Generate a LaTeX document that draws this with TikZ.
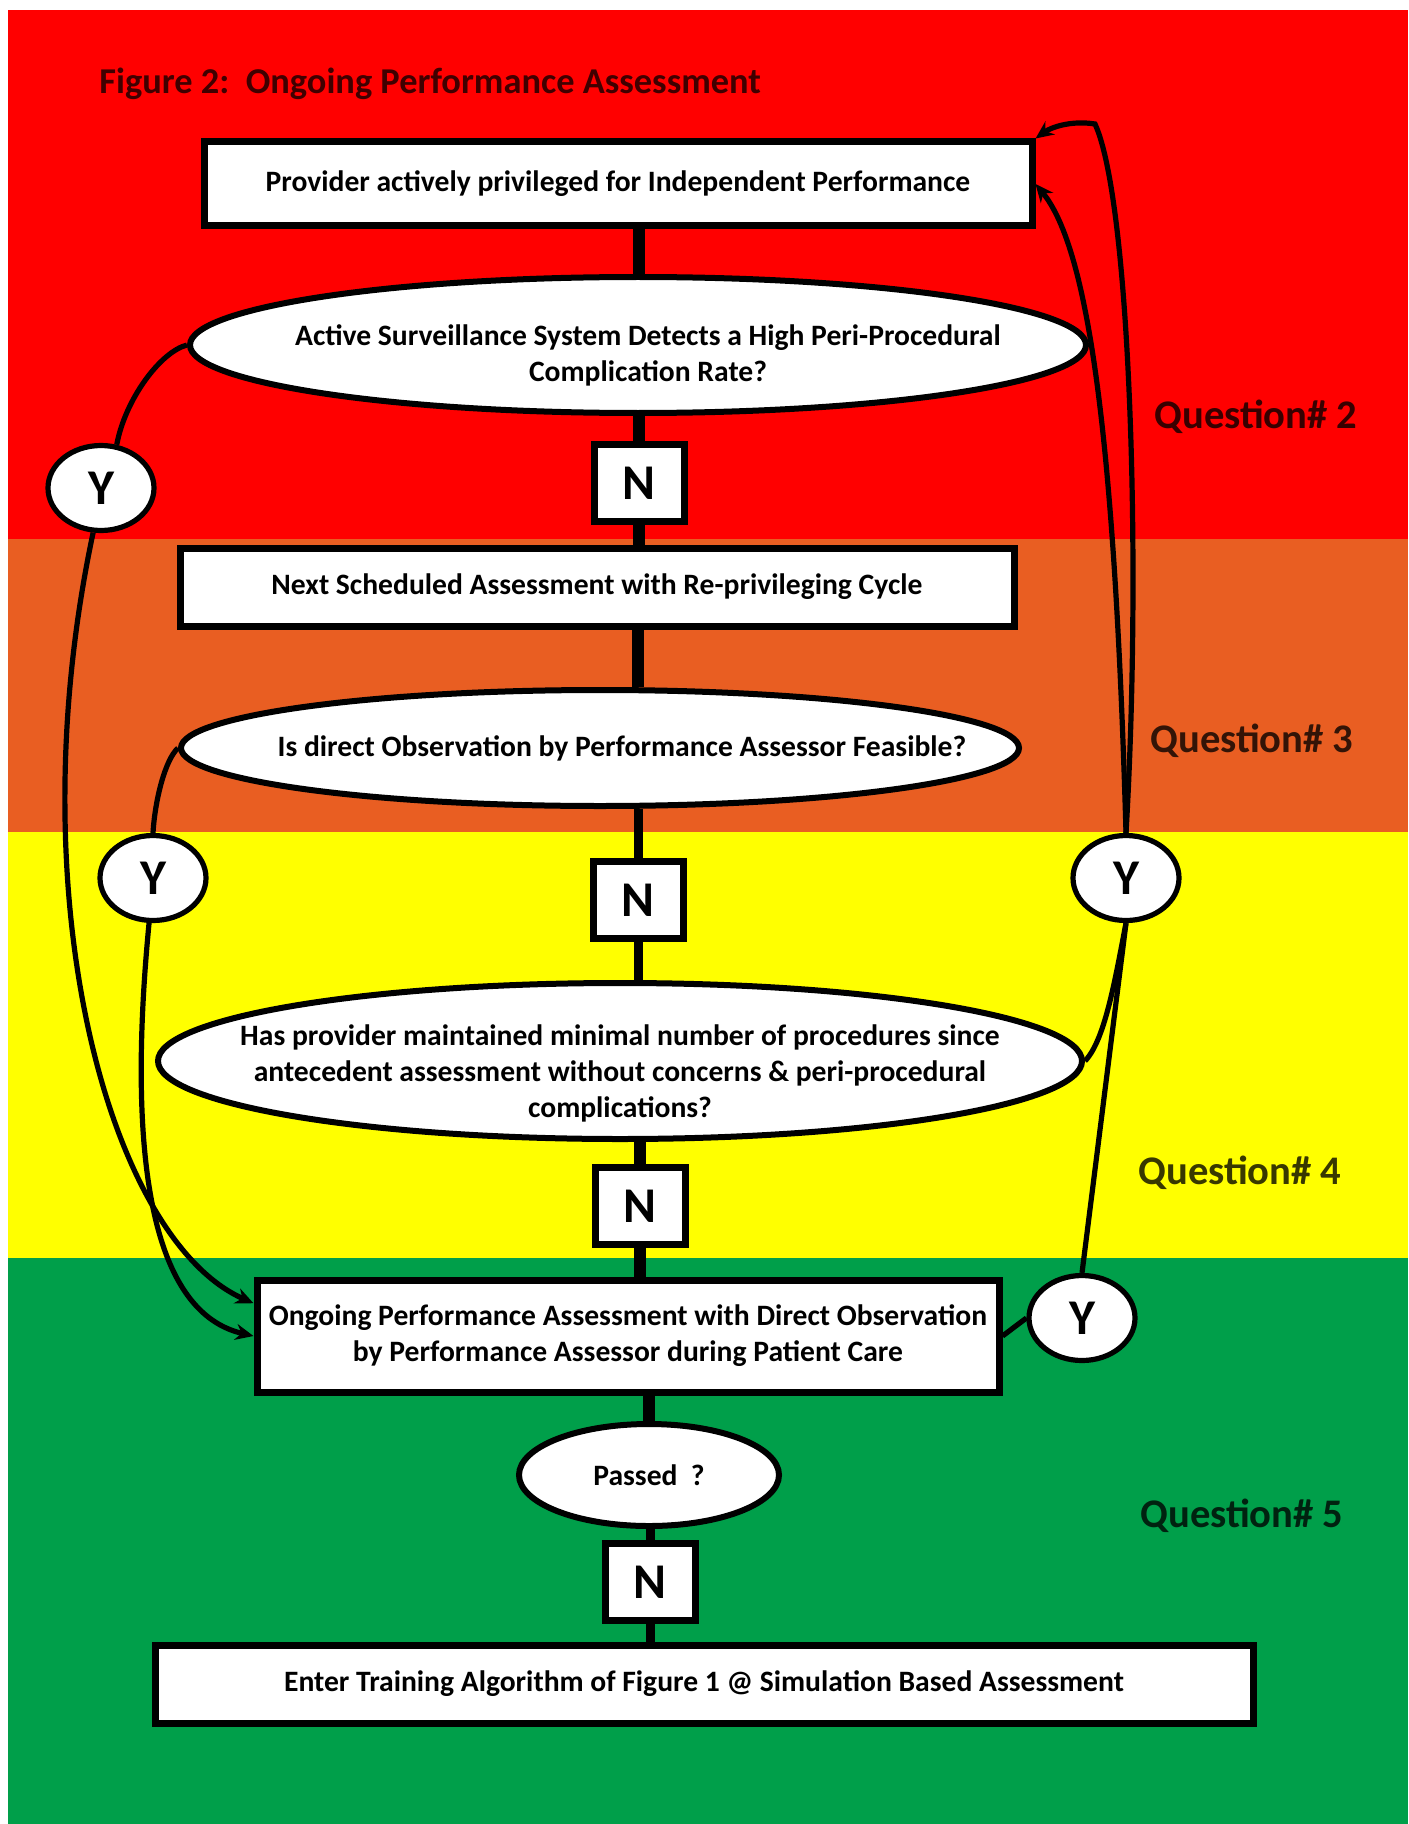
\documentclass[tikz,border=0pt]{standalone}
\usepackage{fontspec}
\setmainfont{Carlito}
\usetikzlibrary{arrows.meta, shapes.geometric}

\definecolor{bandred}{HTML}{FF0000}
\definecolor{bandorange}{HTML}{E95E22}
\definecolor{bandyellow}{HTML}{FFFF00}
\definecolor{bandgreen}{HTML}{009F4A}

\begin{document}
\begin{tikzpicture}[x=0.5pt, y=-0.5pt, >={Stealth[length=9pt,width=8pt]},
  every node/.style={font=\bfseries},
  stepbox/.style={rectangle, draw=black, line width=3.5pt, fill=white, inner sep=0pt, align=center, font=\fontsize{14.8}{18}\selectfont\bfseries},
  query/.style={ellipse, draw=black, line width=3pt, fill=white, inner sep=0pt},
  qtext/.style={align=center, font=\fontsize{14.8}{18}\selectfont\bfseries},
  nbox/.style={rectangle, draw=black, line width=3.5pt, fill=white, minimum width=45pt, minimum height=38.5pt, inner sep=0pt, font=\fontsize{25}{25}\selectfont\bfseries},
  ybox/.style={ellipse, draw=black, line width=2.6pt, fill=white, minimum width=53pt, minimum height=42.5pt, inner sep=0pt, font=\fontsize{25}{25}\selectfont\bfseries},
  qlabel/.style={anchor=west, inner sep=0pt, text=black, text opacity=0.78, font=\fontsize{20.3}{22}\selectfont\bfseries},
  thickconn/.style={line width=6pt},
  midconn/.style={line width=4.5pt},
  curveconn/.style={line width=2.6pt},
]

% Colour bands
\fill[white] (0,0) rectangle (1408,1824);
\fill[bandred] (8,10) rectangle (1408,539);
\fill[bandorange] (8,539) rectangle (1408,832);
\fill[bandyellow] (8,832) rectangle (1408,1258);
\fill[bandgreen] (8,1258) rectangle (1408,1824);
\useasboundingbox (0,0) rectangle (1408,1824);

% Title and question labels
\node[anchor=west, inner sep=0pt, text=black, text opacity=0.75, font=\fontsize{18.2}{22}\selectfont\bfseries] (title) at (99,84) {Figure 2:\ \ Ongoing Performance Assessment};
\node[qlabel] (q2) at (1154,417) {Question\# 2};
\node[qlabel] (q3) at (1150,741) {Question\# 3};
\node[qlabel] (q4) at (1138,1173) {Question\# 4};
\node[qlabel] (q5) at (1140,1516) {Question\# 5};

% Main column
\node[stepbox, minimum width=414pt, minimum height=42pt] (prov) at (618,184) {Provider actively privileged for Independent Performance};
\node[query, minimum width=448pt, minimum height=68pt, label={[qtext,xshift=5pt,yshift=-5pt]center:{Active Surveillance System Detects a High Peri-Procedural\\Complication Rate?}}] (surv) at (638,345) {};
\node[nbox] (n1) at (639,483) {N};
\node[stepbox, minimum width=417pt, minimum height=39pt] (sched) at (597,587) {Next Scheduled Assessment with Re-privileging Cycle};
\node[query, minimum width=419pt, minimum height=58pt, label={[qtext,xshift=11pt]center:{Is direct Observation by Performance Assessor Feasible?}}] (obs) at (600,748) {};
\node[nbox] (n2) at (638,900) {N};
\node[query, minimum width=462pt, minimum height=78pt, label={[qtext,yshift=-6pt]center:{Has provider maintained minimal number of procedures since\\antecedent assessment without concerns \& peri-procedural\\complications?}}] (maint) at (620,1061) {};
\node[nbox] (n3) at (640,1206) {N};
\node[stepbox, minimum width=371pt, minimum height=56pt] (ongoing) at (628,1336) {Ongoing Performance Assessment with Direct Observation\\by Performance Assessor during Patient Care};
\node[query, qtext, minimum width=130pt, minimum height=51pt] (passed) at (649,1475) {Passed\ \ ?};
\node[nbox] (n4) at (650,1582) {N};
\node[stepbox, minimum width=549pt, minimum height=39pt] (enter) at (704,1684) {Enter Training Algorithm of Figure 1 @ Simulation Based Assessment};

% Yes answers
\node[ybox] (y1) at (101,488) {Y};
\node[ybox] (y2) at (153,878) {Y};
\node[ybox] (y3) at (1126,878) {Y};
\node[ybox] (y4) at (1082,1318) {Y};

% No branch
\draw[thickconn] (prov.south -| n1) -- (surv.north -| n1);
\draw[thickconn] (surv.south -| n1) -- (n1.north);
\draw[thickconn] (n1.south) -- (sched.north -| n1);
\draw[thickconn] (sched.south -| n2) -- (obs.north -| n2);
\draw[midconn] (obs.south -| n2) -- (n2.north);
\draw[midconn] (n2.south) -- (maint.north -| n2);
\draw[thickconn] (maint.south -| n3) -- (n3.north);
\draw[thickconn] (n3.south) -- (ongoing.north -| n3);
\draw[thickconn] (ongoing.south -| passed) -- (passed.north);
\draw[midconn] (passed.south -| n4) -- (n4.north);
\draw[midconn] (n4.south) -- (enter.north -| n4);

% Yes branch, left
\draw[curveconn] (surv.west) .. controls (160,352) and (125,400) .. (y1.70);
\draw[curveconn, ->] (y1.260) .. controls (15,900) and (110,1240) .. (ongoing.175);
\draw[curveconn] (obs.west) .. controls (165,760) and (155,800) .. (y2.north);
\draw[curveconn, ->] (y2.265) .. controls (130,1120) and (140,1310) .. (ongoing.west);

% Yes branch, right
\draw[curveconn] (maint.east) .. controls (1105,1040) and (1115,980) .. (y3.south);
\draw[curveconn] (ongoing.east) -- (y4.west);
\draw[curveconn] (y4.north) -- (y3.south);
\draw[curveconn, ->] (y3.north) .. controls (1115,450) and (1090,250) .. (prov.east);
\draw[curveconn, ->] (y3.north) .. controls (1142,560) and (1130,200) .. (1095,124) .. controls (1070,120) and (1050,128) .. (prov.north east);

\end{tikzpicture}
\end{document}
